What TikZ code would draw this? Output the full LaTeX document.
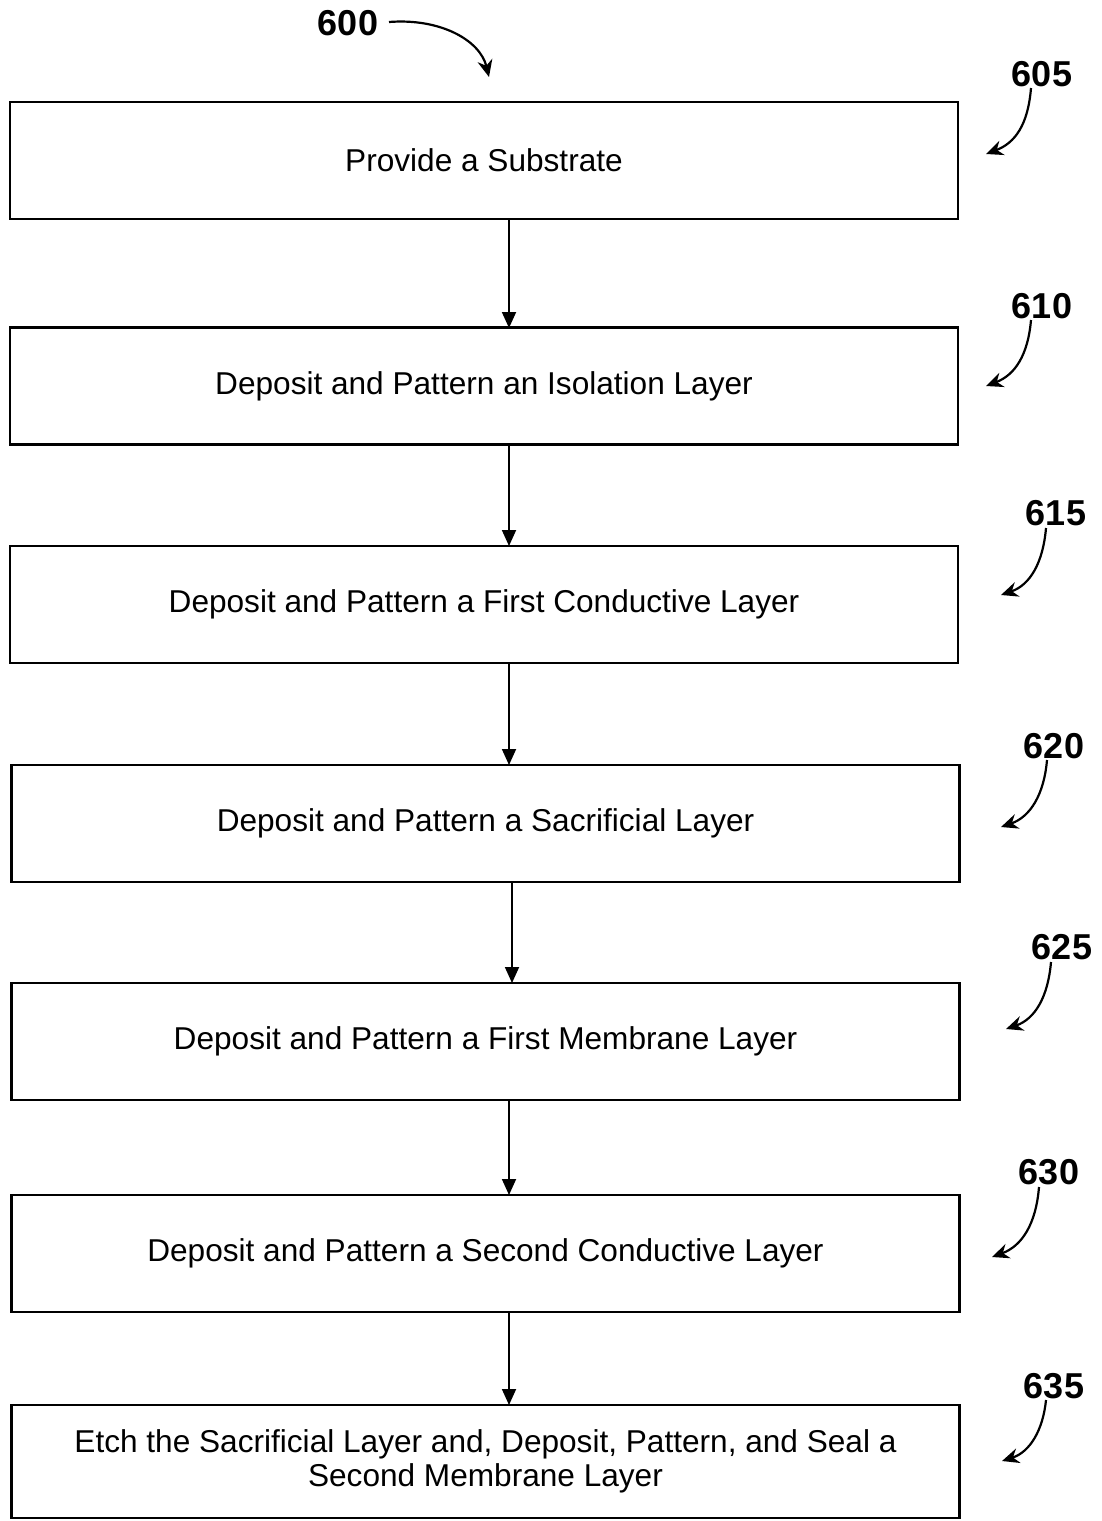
\documentclass[tikz,border=0pt]{standalone}
\usepackage{fontspec}
\setmainfont{Liberation Sans}
\usetikzlibrary{arrows.meta}
\begin{document}
\begin{tikzpicture}[x=1pt,y=-1pt,
  stepbox/.style={draw,line width=2.6pt,minimum width=948pt,minimum height=117pt,inner sep=0pt,align=center,font=\fontsize{31.6}{34}\selectfont},
  flow/.style={line width=1.8pt,-{Triangle[length=16pt,width=14pt]}},
  refnum/.style={font=\fontsize{36}{40}\selectfont\bfseries,inner sep=0pt},
  refarrow/.style={line width=2.2pt,-{Stealth[length=17pt,width=15pt]}}]
\useasboundingbox (0,0) rectangle (1102,1521);
\node[stepbox] (b1) at (484,160.5) {Provide a Substrate};
\node[stepbox] (b2) at (484,386) {Deposit and Pattern an Isolation Layer};
\node[stepbox] (b3) at (484,604.5) {Deposit and Pattern a First Conductive Layer};
\node[stepbox] (b4) at (485.5,823.5) {Deposit and Pattern a Sacrificial Layer};
\node[stepbox] (b5) at (485.5,1041.5) {Deposit and Pattern a First Membrane Layer};
\node[stepbox] (b6) at (485.5,1253.5) {Deposit and Pattern a Second Conductive Layer};
\node[stepbox,minimum height=113pt] (b7) at (485.5,1461.5) {Etch the Sacrificial Layer and, Deposit, Pattern, and Seal a\\Second Membrane Layer};
\draw[flow] (509,219) -- (509,328);
\draw[flow] (509,444) -- (509,546);
\draw[flow] (509,663) -- (509,765);
\draw[flow] (512,882) -- (512,983);
\draw[flow] (509,1100) -- (509,1195);
\draw[flow] (509,1312) -- (509,1405);
% reference numerals
\node[refnum] (n600) at (348,23) {600};
\coordinate (e600) at (489,77);
\draw[refarrow] (389,22) .. controls (440,18) and (480,40) .. (e600);
\node[refnum] (n605) at (1042,74) {605};
\coordinate (e605) at (986,154);
\draw[refarrow] (1031,88) .. controls (1028,125) and (1015,143) .. (e605);
\node[refnum] (n610) at (1042,306) {610};
\coordinate (e610) at (986,386);
\draw[refarrow] (1031,320) .. controls (1028,355) and (1015,375) .. (e610);
\node[refnum] (n615) at (1056,513) {615};
\coordinate (e615) at (1001,595);
\draw[refarrow] (1046,528) .. controls (1043,563) and (1030,585) .. (e615);
\node[refnum] (n620) at (1054,746) {620};
\coordinate (e620) at (1001,827);
\draw[refarrow] (1047,760) .. controls (1044,795) and (1030,817) .. (e620);
\node[refnum] (n625) at (1062,947) {625};
\coordinate (e625) at (1006,1029);
\draw[refarrow] (1051,962) .. controls (1048,997) and (1035,1019) .. (e625);
\node[refnum] (n630) at (1049,1172) {630};
\coordinate (e630) at (992,1257);
\draw[refarrow] (1039,1187) .. controls (1036,1224) and (1022,1246) .. (e630);
\node[refnum] (n635) at (1054,1386) {635};
\coordinate (e635) at (1002,1461);
\draw[refarrow] (1046,1400) .. controls (1043,1430) and (1030,1452) .. (e635);
\end{tikzpicture}
\end{document}
